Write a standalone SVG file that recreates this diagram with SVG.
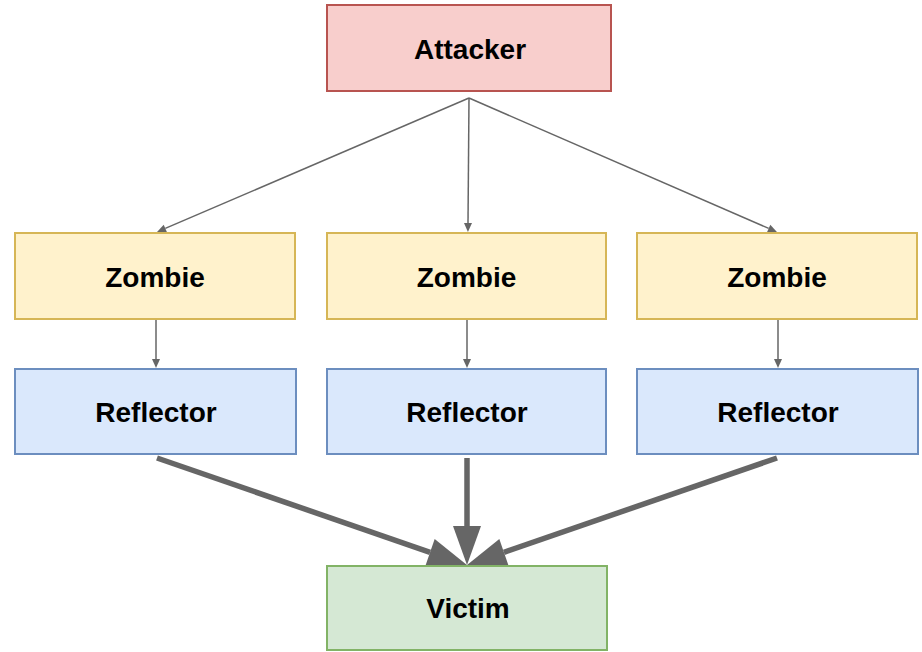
<svg xmlns="http://www.w3.org/2000/svg" width="922" height="652" viewBox="0 0 922 652">
<style>
.box{stroke-width:2}
.atk{fill:#f8cecc;stroke:#b85450}
.zom{fill:#fff2cc;stroke:#d6b656}
.ref{fill:#dae8fc;stroke:#6c8ebf}
.vic{fill:#d5e8d4;stroke:#82b366}
.lbl{font-family:"Liberation Sans",Arial,sans-serif;font-weight:bold;font-size:28px;fill:#000;text-anchor:middle;dominant-baseline:central}
.thin{stroke:#666666;stroke-width:1.5;fill:none}
.thick{stroke:#666666;stroke-width:5.5;fill:none}
</style>
<defs>
<marker id="ah" markerUnits="userSpaceOnUse" markerWidth="10" markerHeight="10" refX="0" refY="4" orient="auto" overflow="visible">
<path d="M0,0 L9,4 L0,8 Z" fill="#666666"/>
</marker>
<marker id="ahb" markerUnits="userSpaceOnUse" markerWidth="40" markerHeight="30" refX="0" refY="14" orient="auto" overflow="visible">
<path d="M0,0 L39,14 L0,28 Z" fill="#666666"/>
</marker>
</defs>
<g id="connectors">
<line class="thin" x1="469" y1="98" x2="165.3" y2="228.4" marker-end="url(#ah)"/>
<line class="thin" x1="469" y1="98" x2="468" y2="223" marker-end="url(#ah)"/>
<line class="thin" x1="469" y1="98" x2="768.7" y2="228.4" marker-end="url(#ah)"/>
<line class="thin" x1="156" y1="320" x2="156" y2="359" marker-end="url(#ah)"/>
<line class="thin" x1="467" y1="320" x2="467" y2="359" marker-end="url(#ah)"/>
<line class="thin" x1="778" y1="320" x2="778" y2="359" marker-end="url(#ah)"/>
<line class="thick" x1="157" y1="458" x2="430.1" y2="552.3" marker-end="url(#ahb)"/>
<line class="thick" x1="467" y1="458" x2="467" y2="526" marker-end="url(#ahb)"/>
<line class="thick" x1="777" y1="458" x2="503.9" y2="552.3" marker-end="url(#ahb)"/>
</g>
<g id="attacker"><rect class="box atk" x="327" y="5" width="284" height="86"/><text class="lbl" x="470" y="49">Attacker</text></g>
<g id="zombie1"><rect class="box zom" x="15" y="233" width="280" height="86"/><text class="lbl" x="155" y="277">Zombie</text></g>
<g id="zombie2"><rect class="box zom" x="327" y="233" width="279" height="86"/><text class="lbl" x="466.5" y="277">Zombie</text></g>
<g id="zombie3"><rect class="box zom" x="637" y="233" width="280" height="86"/><text class="lbl" x="777" y="277">Zombie</text></g>
<g id="reflector1"><rect class="box ref" x="15" y="369" width="281" height="85"/><text class="lbl" x="156" y="412">Reflector</text></g>
<g id="reflector2"><rect class="box ref" x="327" y="369" width="279" height="85"/><text class="lbl" x="467" y="412">Reflector</text></g>
<g id="reflector3"><rect class="box ref" x="637" y="369" width="281" height="85"/><text class="lbl" x="778" y="412">Reflector</text></g>
<g id="victim"><rect class="box vic" x="327" y="566" width="280" height="84"/><text class="lbl" x="468" y="608">Victim</text></g>
</svg>
